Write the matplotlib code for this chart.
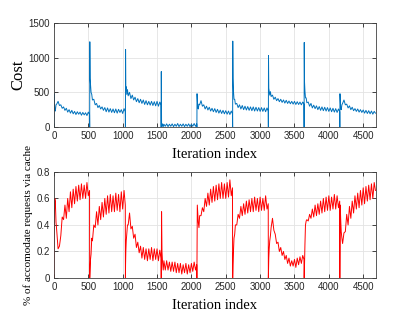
import numpy as np
import matplotlib
matplotlib.use('Agg')
import matplotlib.pyplot as plt

# segment starts (iteration index) and sample offsets inside each segment
seg_starts = [0, 520, 1040, 1560, 2080, 2600, 3120, 3640, 4160]
seg_offsets = [0, 2, 6, 12, 20, 30, 40] + list(range(60, 501, 20)) + [518]

cost_by_segment = [
    [0, 480, 380, 250, 230, 320, 330, 370, 310, 320, 270, 290, 240, 270, 215, 250, 200, 240, 190, 225,
     180, 220, 185, 215, 170, 210, 175, 205, 165, 215, 180],
    [0, 1230, 700, 620, 500, 470, 390, 400, 320, 340, 280, 310, 260, 290, 240, 280, 220, 275, 215, 265,
     210, 260, 205, 260, 200, 255, 210, 250, 195, 265, 220],
    [0, 1120, 560, 580, 470, 540, 450, 500, 410, 460, 390, 430, 365, 410, 350, 400, 340, 390, 325, 380,
     320, 370, 315, 370, 310, 365, 305, 370, 300, 360, 320],
    [0, 800, 40, 10, 45, 5, 40, 10, 45, 5, 40, 10, 45, 5, 40, 10, 50, 5, 40, 10,
     45, 5, 40, 10, 45, 5, 40, 10, 50, 10, 45],
    [0, 480, 400, 290, 260, 330, 320, 380, 300, 320, 260, 300, 245, 285, 230, 270, 220, 265, 210, 255,
     200, 245, 195, 240, 190, 235, 185, 230, 180, 230, 190],
    [0, 1240, 700, 520, 400, 400, 330, 340, 280, 320, 260, 310, 250, 300, 245, 295, 240, 290, 235, 290,
     230, 285, 230, 280, 225, 280, 225, 275, 220, 275, 230],
    [0, 1030, 560, 520, 460, 510, 440, 460, 400, 430, 380, 410, 365, 400, 355, 390, 345, 385, 340, 375,
     335, 370, 330, 370, 325, 365, 325, 360, 320, 360, 330],
    [0, 1220, 650, 520, 420, 420, 350, 360, 300, 340, 275, 315, 265, 305, 250, 295, 240, 290, 235, 285,
     230, 280, 225, 275, 220, 270, 215, 265, 210, 260, 220],
    [0, 480, 380, 270, 250, 320, 340, 390, 320, 330, 275, 305, 250, 285, 235, 265, 225, 260, 215, 250,
     210, 245, 200, 240, 195, 235, 190, 230, 185, 225, 200],
]

share_by_segment = [
    [0, 0.3, 0.45, 0.6, 0.58, 0.42, 0.36, 0.22, 0.24, 0.32, 0.46, 0.44, 0.55, 0.45, 0.6, 0.5, 0.65,
     0.53, 0.67, 0.56, 0.69, 0.58, 0.7, 0.59, 0.71, 0.6, 0.7, 0.6, 0.72, 0.62, 0.66],
    [0, 0.0, 0.05, 0.14, 0.18, 0.3, 0.28, 0.4, 0.38, 0.5, 0.4, 0.54, 0.44, 0.57, 0.46, 0.6, 0.48,
     0.62, 0.49, 0.63, 0.5, 0.62, 0.5, 0.64, 0.51, 0.63, 0.5, 0.65, 0.52, 0.66, 0.55],
    [0, 0.1, 0.2, 0.28, 0.33, 0.4, 0.4, 0.49, 0.37, 0.39, 0.3, 0.33, 0.23, 0.27, 0.19, 0.24, 0.15,
     0.23, 0.14, 0.22, 0.13, 0.22, 0.14, 0.23, 0.13, 0.22, 0.14, 0.22, 0.13, 0.21, 0.15],
    [0, 0.0, 0.5, 0.2, 0.12, 0.06, 0.13, 0.06, 0.13, 0.06, 0.12, 0.05, 0.12, 0.05, 0.12, 0.04, 0.11,
     0.04, 0.11, 0.03, 0.1, 0.04, 0.11, 0.03, 0.1, 0.04, 0.11, 0.05, 0.12, 0.06, 0.1],
    [0, 0.2, 0.55, 0.5, 0.42, 0.38, 0.47, 0.47, 0.53, 0.5, 0.6, 0.54, 0.64, 0.55, 0.67, 0.57, 0.69,
     0.58, 0.7, 0.59, 0.71, 0.6, 0.72, 0.6, 0.71, 0.6, 0.72, 0.61, 0.74, 0.62, 0.68],
    [0, 0.0, 0.1, 0.2, 0.3, 0.33, 0.4, 0.4, 0.48, 0.45, 0.54, 0.47, 0.56, 0.48, 0.58, 0.49, 0.59,
     0.5, 0.6, 0.5, 0.61, 0.51, 0.6, 0.5, 0.61, 0.51, 0.6, 0.51, 0.62, 0.52, 0.56],
    [0, 0.05, 0.15, 0.22, 0.28, 0.32, 0.38, 0.45, 0.36, 0.33, 0.26, 0.27, 0.2, 0.23, 0.17, 0.2, 0.14,
     0.17, 0.11, 0.15, 0.09, 0.13, 0.09, 0.14, 0.08, 0.15, 0.1, 0.16, 0.11, 0.17, 0.14],
    [0, 0.0, 0.1, 0.25, 0.4, 0.43, 0.44, 0.43, 0.48, 0.45, 0.52, 0.46, 0.55, 0.47, 0.56, 0.48, 0.58,
     0.49, 0.6, 0.5, 0.61, 0.51, 0.62, 0.51, 0.61, 0.52, 0.63, 0.52, 0.62, 0.53, 0.58],
    [0, 0.2, 0.55, 0.45, 0.35, 0.3, 0.26, 0.34, 0.35, 0.48, 0.4, 0.54, 0.45, 0.58, 0.49, 0.62, 0.52,
     0.64, 0.53, 0.66, 0.55, 0.68, 0.56, 0.69, 0.58, 0.7, 0.59, 0.71, 0.6, 0.72, 0.66],
]

x_ticks = [0, 500, 1000, 1500, 2000, 2500, 3000, 3500, 4000, 4500]


def style_axes(ax, yticks):
    ax.set_xlim(0, 4680)
    ax.set_xticks(x_ticks)
    ax.set_yticks(yticks)
    ax.grid(True, color='#e3e3e3', linewidth=0.6)
    ax.set_axisbelow(True)
    ax.tick_params(direction='in', length=3, width=0.6, top=True, right=True,
                   labelsize=7, colors='#262626', pad=3)
    for lbl in ax.get_xticklabels() + ax.get_yticklabels():
        lbl.set_family('Liberation Sans')
    for sp in ax.spines.values():
        sp.set_color('#404040')
        sp.set_linewidth(0.6)


iters = np.concatenate([np.array(seg_offsets) + s for s in seg_starts])
cost = np.concatenate(cost_by_segment)
share = np.concatenate(share_by_segment)

fig = plt.figure(figsize=(4.15, 3.12), dpi=100)
ax1 = fig.add_axes([0.130, 0.593, 0.775, 0.333])
ax2 = fig.add_axes([0.130, 0.109, 0.775, 0.340])

ax1.plot(iters, cost, color='#0072BD', linewidth=0.7)
ax1.set_ylim(0, 1500)
style_axes(ax1, [0, 500, 1000, 1500])
ax1.set_ylabel('Cost', family='Liberation Serif', fontsize=12)
ax1.yaxis.set_label_coords(-0.087, 0.5)
ax1.set_xlabel('Iteration index', family='Liberation Serif', fontsize=10.5)
ax1.xaxis.set_label_coords(0.5, -0.2)

ax2.plot(iters, share, color='#ff0000', linewidth=0.7)
ax2.set_ylim(0, 0.8)
style_axes(ax2, [0, 0.2, 0.4, 0.6, 0.8])
ax2.set_yticklabels(['0', '0.2', '0.4', '0.6', '0.8'], family='Liberation Sans')
ax2.set_ylabel('% of accomodate requests via cache', family='Liberation Serif', fontsize=8)
ax2.yaxis.set_label_coords(-0.065, 0.5)
ax2.set_xlabel('Iteration index', family='Liberation Serif', fontsize=10.5)
ax2.xaxis.set_label_coords(0.5, -0.2)

fig.savefig('out.png', dpi=100)
